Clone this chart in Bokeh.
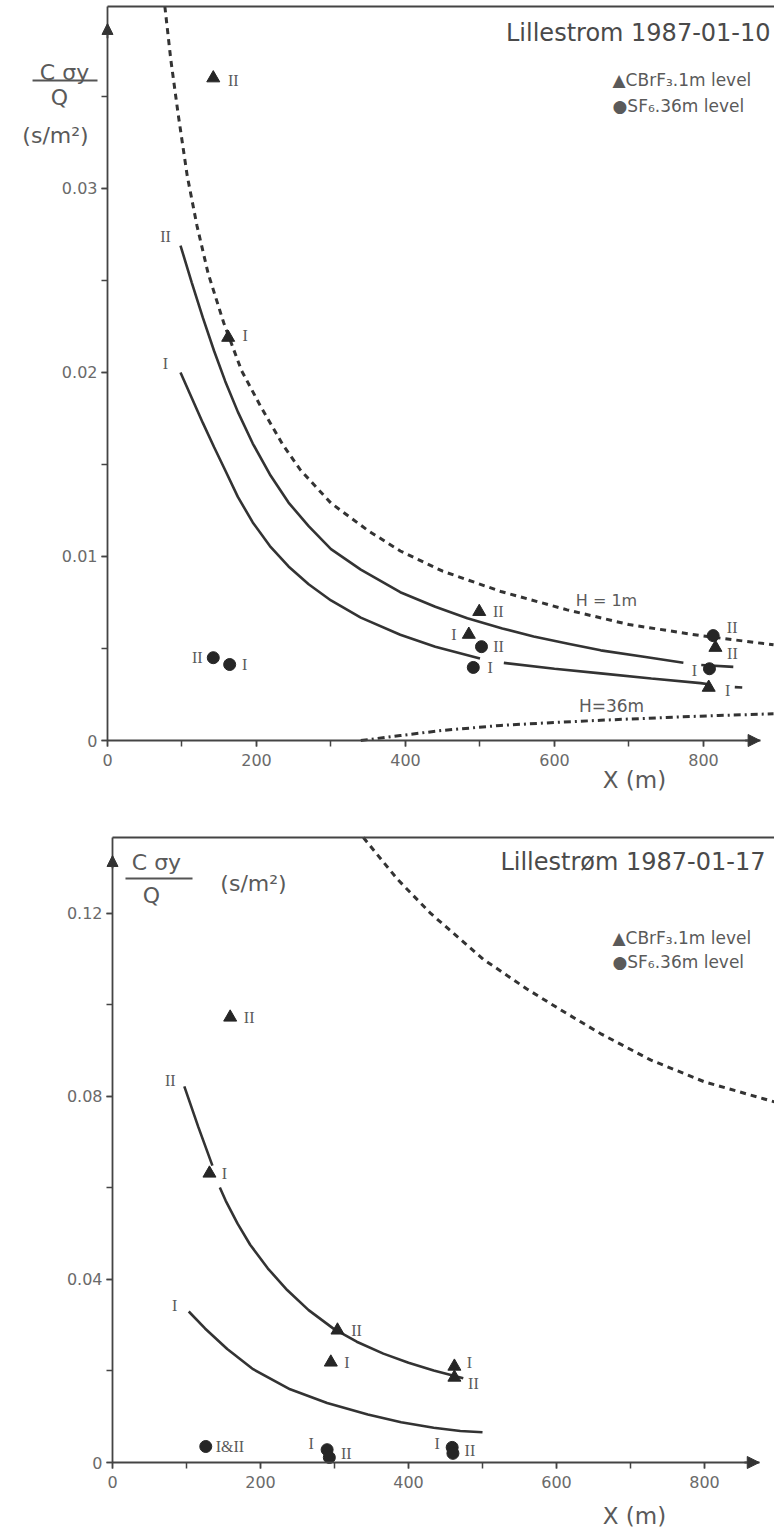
from bokeh.plotting import figure
from bokeh.models import (Range1d, SingleIntervalTicker, FixedTicker, NumeralTickFormatter, Label,
                          LinearAxis, Arrow, NormalHead, ColumnDataSource, BoxAnnotation)
from bokeh.layouts import column
from bokeh.core.properties import value
from bokeh.embed import file_html
from bokeh.resources import INLINE

nan = float("nan")

# ---------------- data: panel 1 (Lillestrom 1987-01-10) ----------------
top_tri_x = [142, 162, 485, 499, 807, 816]
top_tri_y = [0.0360, 0.0219, 0.00576, 0.0070, 0.00288, 0.00505]
top_tri_lab = ["II", "I", "I", "II", "I", "II"]
top_cir_x = [142, 164, 491, 502, 808, 813]
top_cir_y = [0.0045, 0.00413, 0.00397, 0.0051, 0.0039, 0.0057]
top_cir_lab = ["II", "I", "I", "II", "I", "II"]

top_curve2_x = [98, 113, 128, 143, 158, 175, 195, 218, 243, 270, 300, 340, 393, 440, 483, 530, 572, 620, 662, 720, 773, nan, 797, 840]
top_curve2_y = [0.0269, 0.0249, 0.02298, 0.02118, 0.01953, 0.01786, 0.01614, 0.01446, 0.01293, 0.01165, 0.0104, 0.00929, 0.00806, 0.00727, 0.00664, 0.00609, 0.00565, 0.00525, 0.0049, 0.00455, 0.00423, nan, 0.0041, 0.0040]
top_curve1_x = [98, 113, 128, 143, 158, 175, 195, 218, 243, 270, 300, 340, 393, 440, 500, nan, 532, 600, 662, 730, 796, 807, nan, 842, 852]
top_curve1_y = [0.0200, 0.01863, 0.01726, 0.01595, 0.01469, 0.01324, 0.01185, 0.01057, 0.00946, 0.00849, 0.00761, 0.00668, 0.00575, 0.0051, 0.00446, nan, 0.00422, 0.0039, 0.00365, 0.00337, 0.00312, 0.00306, nan, 0.0029, 0.00288]
top_h1_x = [77, 85, 95, 107, 120, 135, 156, 180, 205, 235, 259, 300, 350, 393, 450, 528, 617, 700, 796, 894]
top_h1_y = [0.0399, 0.0370, 0.0340, 0.0307, 0.0280, 0.0254, 0.0227, 0.0201, 0.0182, 0.0161, 0.0147, 0.0129, 0.0114, 0.0103, 0.0092, 0.0081, 0.0071, 0.0063, 0.0057, 0.0052]
top_h36_x = [340, 393, 450, 528, 600, 662, 750, 820, 894]
top_h36_y = [0.0, 0.00027, 0.00055, 0.00082, 0.00098, 0.0011, 0.00125, 0.00136, 0.00145]

# ---------------- data: panel 2 (Lillestrøm 1987-01-17) ----------------
bot_tri_x = [159, 131, 304, 295, 462, 462]
bot_tri_y = [0.0973, 0.0632, 0.0289, 0.0219, 0.0210, 0.0186]
bot_tri_lab = ["II", "I", "II", "I", "I", "II"]
bot_cir_x = [126, 290, 293, 459, 460]
bot_cir_y = [0.0035, 0.0028, 0.0011, 0.0033, 0.0020]
bot_cir_lab = ["I&II", "I", "II", "I", "II"]

bot_curve2_x = [97, 116, 135, nan, 145, 153, 169, 186, 210, 236, 265, 299, 330, 366, 400, 434, 474]
bot_curve2_y = [0.0822, 0.0733, 0.0649, nan, 0.0601, 0.0572, 0.0522, 0.0476, 0.0424, 0.0377, 0.0333, 0.0292, 0.0264, 0.0238, 0.0218, 0.0201, 0.0184]
bot_curve1_x = [103, 125, 155, 190, 240, 290, 345, 390, 434, 470, 500]
bot_curve1_y = [0.0330, 0.0293, 0.0248, 0.0204, 0.0160, 0.0130, 0.0105, 0.0088, 0.0076, 0.0069, 0.0066]
bot_h1_x = [339, 385, 430, 501, 560, 605, 660, 727, 800, 895]
bot_h1_y = [0.1366, 0.1275, 0.1200, 0.1100, 0.1035, 0.0990, 0.0937, 0.0880, 0.0832, 0.0788]

x_tick_interval = 200
top_y_interval = 0.01
bot_y_interval = 0.04

# label placement (pixels) relative to each point
top_tri_dx = [20, 17, -15, 19, 19, 17]
top_tri_dy = [2, -2, 0, 0, 3, 6]
top_cir_dx = [-16, 15, 17, 17, -15, 19]
top_cir_dy = [0, 0, 0, 0, 2, -8]
bot_tri_dx = [19, 15, 19, 16, 15, 19]
bot_tri_dy = [0, 0, 0, 0, -4, 6]
bot_cir_dx = [10, -16, 17, -15, 17]
bot_cir_dy = [0, -6, -4, -4, -3]
bot_cir_align = ["left", "center", "center", "center", "center"]

INK = "#262626"
AX = "#444444"
TXT = "#5a5a5a"
SANS = "DejaVu Sans"
SERIF = "Liberation Serif"


def base_fig(width, height, xr, yr, x_top, y_top, yint):
    p = figure(width=width, height=height, x_range=Range1d(*xr), y_range=Range1d(*yr),
               output_backend="svg", toolbar_location=None, title=None,
               x_axis_type=None, y_axis_type=None,
               min_border_left=0, min_border_right=0, min_border_top=0, min_border_bottom=0)
    p.outline_line_color = None
    p.background_fill_color = "white"
    p.border_fill_color = "white"
    xa = LinearAxis(fixed_location=0, bounds=(0, x_top),
                    ticker=SingleIntervalTicker(interval=x_tick_interval, num_minor_ticks=2))
    ya = LinearAxis(fixed_location=0, bounds=(0, y_top),
                    ticker=SingleIntervalTicker(interval=yint, num_minor_ticks=2),
                    formatter=NumeralTickFormatter(format="0.[00]"))
    for ax in (xa, ya):
        ax.axis_line_color = AX
        ax.axis_line_width = 1.8
        ax.major_tick_line_color = AX
        ax.minor_tick_line_color = AX
        ax.major_tick_line_width = 1.5
        ax.minor_tick_line_width = 1.5
        ax.major_tick_in = 0
        ax.major_tick_out = 6
        ax.minor_tick_in = 0
        ax.minor_tick_out = 6
        ax.major_label_text_font = SANS
        ax.major_label_text_font_size = "16px"
        ax.major_label_text_color = "#6a6a6a"
    xa.major_label_standoff = 7
    ya.major_label_standoff = 4
    p.add_layout(xa, "below")
    p.add_layout(ya, "left")
    border = LinearAxis(fixed_location=y_top, bounds=(0, xr[1]), ticker=FixedTicker(ticks=[]),
                        major_tick_out=0, major_tick_in=0, minor_tick_out=0, minor_tick_in=0,
                        axis_line_color=AX, axis_line_width=2)
    p.add_layout(border, "above")
    return p


def lbl(p, x, y, text, size, color=TXT, align="center", font=SANS):
    p.add_layout(Label(x=x, y=y, text=text, text_font=font, text_font_size=size,
                       text_color=color, text_align=align, text_baseline="middle"))


def points(p, tx, ty, tl, tdx, tdy, cx, cy, cl, cdx, cdy, calign=None):
    p.scatter(tx, ty, marker="triangle", size=13, fill_color=INK, line_color=INK)
    p.scatter(cx, cy, marker="circle", size=12, fill_color=INK, line_color=INK)
    s1 = ColumnDataSource(dict(x=tx, y=ty, t=tl, dx=tdx, dy=tdy))
    p.text("x", "y", text="t", x_offset="dx", y_offset="dy", source=s1,
           text_font=value(SERIF), text_font_size="16px", text_color=TXT,
           text_align="center", text_baseline="middle")
    s2 = ColumnDataSource(dict(x=cx, y=cy, t=cl, dx=cdx, dy=cdy,
                               a=calign if calign else ["center"] * len(cx)))
    p.text("x", "y", text="t", x_offset="dx", y_offset="dy", source=s2,
           text_font=value(SERIF), text_font_size="16px", text_color=TXT,
           text_align="a", text_baseline="middle")


def arrows(p, x_tip, y_tip, x_len, y_len):
    p.add_layout(Arrow(end=NormalHead(size=12, fill_color="#333", line_color="#333"),
                       x_start=x_tip - x_len, y_start=0, x_end=x_tip, y_end=0,
                       line_color=AX, line_width=1.8))
    p.add_layout(Arrow(end=NormalHead(size=11, fill_color="#333", line_color="#333"),
                       x_start=0, y_start=y_tip - y_len, x_end=0, y_end=y_tip,
                       line_color=AX, line_width=1.8))


# ======================= top panel =======================
p1 = base_fig(774, 795, (-143.6, 895.3), (-0.002989, 0.040217), 876, 0.03989, top_y_interval)
p1.line(top_curve2_x, top_curve2_y, line_width=2.6, line_color="#333")
p1.line(top_curve1_x, top_curve1_y, line_width=2.6, line_color="#333")
p1.line(top_h1_x, top_h1_y, line_width=3, line_color="#333", line_dash="6 5")
p1.line(top_h36_x, top_h36_y, line_width=3, line_color="#333", line_dash="7 4 2 4")
points(p1, top_tri_x, top_tri_y, top_tri_lab, top_tri_dx, top_tri_dy,
       top_cir_x, top_cir_y, top_cir_lab, top_cir_dx, top_cir_dy)
p1.text([top_curve2_x[0], top_curve1_x[0]], [top_curve2_y[0], top_curve1_y[0]], text=["II", "I"],
        x_offset=-15, y_offset=-9, text_font=value(SERIF), text_font_size="16px",
        text_color=TXT, text_align="center", text_baseline="middle")
arrows(p1, 876, 0.03897, 20, 0.0008)
lbl(p1, 890, 0.038424, "Lillestrom 1987-01-10", "24px", color="#4a4a4a", align="right")
lbl(p1, 677.9, 0.03587, "▲CBrF₃.1m level", "17px", align="left")
lbl(p1, 677.9, 0.034457, "●SF₆.36m level", "17px", align="left")
lbl(p1, 669.8, 0.007609, "H = 1m", "16px")
lbl(p1, 676.5, 0.001902, "H=36m", "17px")
lbl(p1, 707.4, -0.00212, "X (m)", "23px")
lbl(p1, -57.7, 0.036304, "C σy", "22px")
p1.add_layout(BoxAnnotation(left=-100.6, right=-13.4, bottom=0.03582, top=0.03593,
                            fill_color="#555", fill_alpha=1, line_color=None))
lbl(p1, -64.4, 0.034946, "Q", "22px")
lbl(p1, -69.8, 0.032880, "(s/m²)", "22px")

# ======================= bottom panel =======================
p2 = base_fig(774, 735, (-151.4, 894.6), (-0.014863, 0.14579), 874, 0.13661, bot_y_interval)
p2.line(bot_curve2_x, bot_curve2_y, line_width=2.6, line_color="#333")
p2.line(bot_curve1_x, bot_curve1_y, line_width=2.6, line_color="#333")
p2.line(bot_h1_x, bot_h1_y, line_width=3, line_color="#333", line_dash="6 5")
points(p2, bot_tri_x, bot_tri_y, bot_tri_lab, bot_tri_dx, bot_tri_dy,
       bot_cir_x, bot_cir_y, bot_cir_lab, bot_cir_dx, bot_cir_dy, bot_cir_align)
p2.text([bot_curve2_x[0], bot_curve1_x[0]], [bot_curve2_y[0], bot_curve1_y[0]], text=["II", "I"],
        x_offset=-14, y_offset=-6, text_font=value(SERIF), text_font_size="16px",
        text_color=TXT, text_align="center", text_baseline="middle")
arrows(p2, 874, 0.13268, 20, 0.0028)
lbl(p2, 882.4, 0.13115, "Lillestrøm 1987-01-17", "24px", color="#4a4a4a", align="right")
lbl(p2, 675.6, 0.11475, "▲CBrF₃.1m level", "17px", align="left")
lbl(p2, 675.6, 0.10929, "●SF₆.36m level", "17px", align="left")
lbl(p2, 705.4, -0.011585, "X (m)", "23px")
lbl(p2, 59.4, 0.13115, "C σy", "22px")
p2.add_layout(BoxAnnotation(left=17.5, right=108.1, bottom=0.12745, top=0.12785,
                            fill_color="#555", fill_alpha=1, line_color=None))
lbl(p2, 52.7, 0.12393, "Q", "22px")
lbl(p2, 190.5, 0.12656, "(s/m²)", "22px")

layout = column(p1, p2, spacing=0)
open("out.html", "w").write(file_html(layout, INLINE))
